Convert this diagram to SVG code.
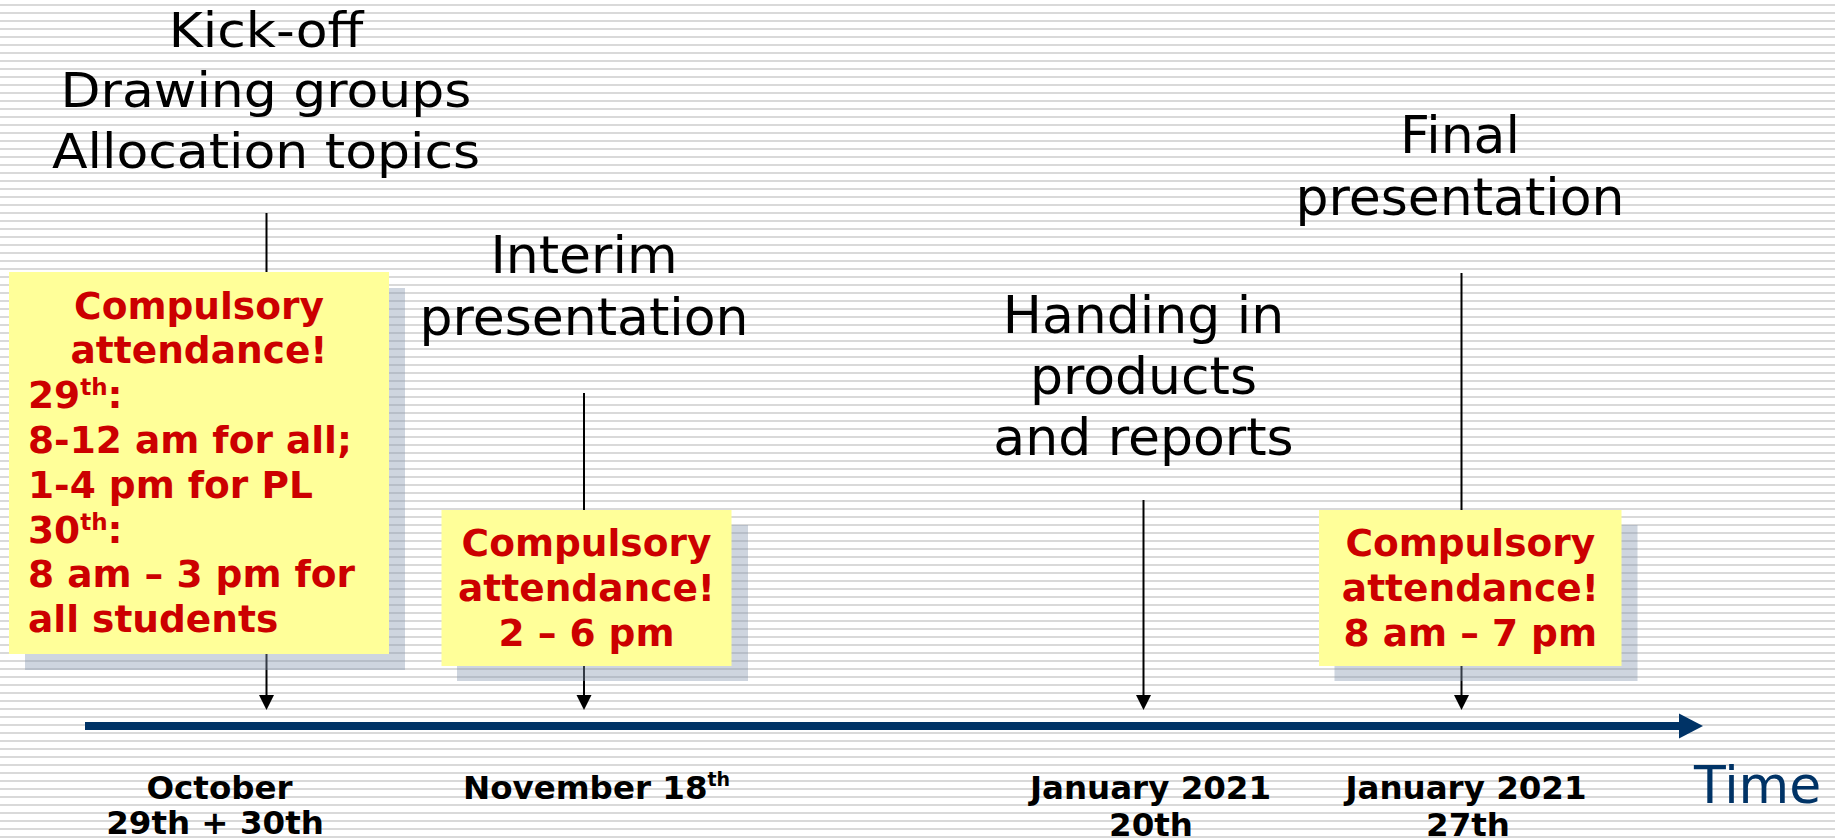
<svg xmlns="http://www.w3.org/2000/svg" width="1835" height="840" viewBox="0 0 1835 840">
  <defs>
    <pattern id="stripes" width="8" height="8" patternUnits="userSpaceOnUse">
      <rect x="0" y="4" width="8" height="2" fill="#d9d9d9"/>
    </pattern>
    <marker id="arrow" markerUnits="userSpaceOnUse" markerWidth="16" markerHeight="16" refX="5" refY="7.5" orient="auto">
      <path d="M0,0 L15,7.5 L0,15 z" fill="#000"/>
    </marker>
    <style>
      .title { font-family: "DejaVu Sans", Verdana, sans-serif; font-size: 52px; fill: #000; text-anchor: middle; }
      .conn { stroke: #000; stroke-width: 2; fill: none; }
      .shadow { fill: #8496b0; opacity: 0.4; }
      .note { fill: #ffff99; }
      .red { font-family: "DejaVu Sans", Verdana, sans-serif; font-size: 37.5px; font-weight: bold; fill: #cc0000; }
      .mid { text-anchor: middle; }
      .date { font-family: "DejaVu Sans", Verdana, sans-serif; font-size: 32.5px; font-weight: bold; fill: #000; }
    </style>
  </defs>

  <rect x="0" y="0" width="1835" height="840" fill="#ffffff"/>
  <rect x="0" y="0" width="1835" height="840" fill="url(#stripes)"/>

  <!-- connectors -->
  <g id="connectors">
    <line class="conn" x1="266.5" y1="213" x2="266.5" y2="700" marker-end="url(#arrow)"/>
    <line class="conn" x1="584" y1="393" x2="584" y2="700" marker-end="url(#arrow)"/>
    <line class="conn" x1="1143.5" y1="500" x2="1143.5" y2="700" marker-end="url(#arrow)"/>
    <line class="conn" x1="1461.5" y1="273" x2="1461.5" y2="700" marker-end="url(#arrow)"/>
    <line x1="85" y1="726" x2="1681" y2="726" stroke="#003366" stroke-width="8"/>
    <polygon points="1679,713.5 1703,726 1679,738.5" fill="#003366"/>
  </g>

  <!-- top labels -->
  <g id="kickoff-label" transform="scale(1,0.92)">
    <text class="title" x="266" y="50.8">Kick-off</text>
    <text class="title" x="266" y="116.6">Drawing groups</text>
    <text class="title" x="266" y="182.6">Allocation topics</text>
  </g>
  <g id="interim-label">
    <text class="title" x="584" y="273.3">Interim</text>
    <text class="title" x="584" y="335">presentation</text>
  </g>
  <g id="handing-label">
    <text class="title" x="1143.5" y="333.3">Handing in</text>
    <text class="title" x="1143.5" y="394">products</text>
    <text class="title" x="1143.5" y="455">and reports</text>
  </g>
  <g id="final-label">
    <text class="title" x="1460" y="153.3">Final</text>
    <text class="title" x="1460" y="215">presentation</text>
  </g>

  <!-- notes -->
  <g id="note-kickoff">
    <rect class="shadow" x="25" y="288" width="380" height="382"/>
    <rect class="note" x="9" y="272" width="380" height="382"/>
    <text class="red mid" x="199" y="319.3">Compulsory</text>
    <text class="red mid" x="199" y="363.3">attendance!</text>
    <text class="red" x="28" y="408.3">29<tspan font-size="23" dy="-13">th</tspan><tspan dy="13">:</tspan></text>
    <text class="red" x="28" y="453.3">8-12 am for all;</text>
    <text class="red" x="28" y="497.7">1-4 pm for PL</text>
    <text class="red" x="28" y="542.7">30<tspan font-size="23" dy="-13">th</tspan><tspan dy="13">:</tspan></text>
    <text class="red" x="28" y="587.3">8 am – 3 pm for</text>
    <text class="red" x="28" y="631.7">all students</text>
  </g>
  <g id="note-interim">
    <rect class="shadow" x="457" y="525" width="291" height="156"/>
    <rect class="note" x="441.5" y="510" width="290" height="156"/>
    <text class="red mid" x="586.5" y="555.7">Compulsory</text>
    <text class="red mid" x="586.5" y="600.7">attendance!</text>
    <text class="red mid" x="586.5" y="645.7">2 – 6 pm</text>
  </g>
  <g id="note-final">
    <rect class="shadow" x="1334.5" y="525" width="303" height="156"/>
    <rect class="note" x="1319" y="510" width="302.5" height="156"/>
    <text class="red mid" x="1470.3" y="555.7">Compulsory</text>
    <text class="red mid" x="1470.3" y="600.7">attendance!</text>
    <text class="red mid" x="1470.3" y="645.7">8 am – 7 pm</text>
  </g>

  <!-- dates -->
  <g id="date-october">
    <text class="date mid" x="219.5" y="799">October</text>
    <text class="date mid" x="215" y="834">29th + 30th</text>
  </g>
  <g id="date-november">
    <text class="date" x="463" y="799">November 18<tspan font-size="19" dy="-13">th</tspan></text>
  </g>
  <g id="date-jan20">
    <text class="date mid" x="1150.5" y="799">January 2021</text>
    <text class="date mid" x="1151" y="835.5">20th</text>
  </g>
  <g id="date-jan27">
    <text class="date mid" x="1466" y="799">January 2021</text>
    <text class="date mid" x="1468" y="835.5">27th</text>
  </g>
  <g id="time-label">
    <text x="1694" y="803" font-family="'DejaVu Sans', Verdana, sans-serif" font-size="52" fill="#003366">Time</text>
  </g>
</svg>
